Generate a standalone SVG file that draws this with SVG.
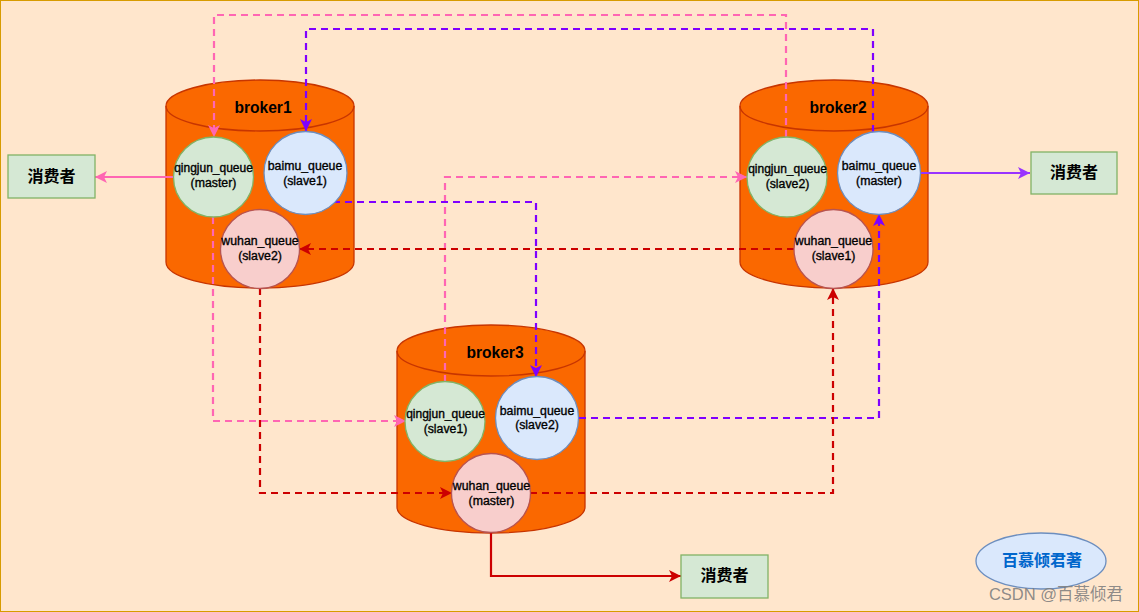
<svg xmlns="http://www.w3.org/2000/svg" width="1139" height="612" viewBox="0 0 1139 612">
<style>
text{font-family:"Liberation Sans",Arial,"Noto Sans CJK SC",sans-serif;text-anchor:middle}
.cyl{fill:#fa6800;stroke:#c73500;stroke-width:1.3}
.bt{font-size:15.600px;font-weight:700;fill:#000}
.q{font-size:12.300px;fill:#000;stroke:#000;stroke-width:.35}
.qj{font-size:12px}
.g{fill:#d5e8d4;stroke:#82b366;stroke-width:1.3}
.b{fill:#dae8fc;stroke:#6c8ebf;stroke-width:1.3}
.r{fill:#f8cecc;stroke:#b85450;stroke-width:1.3}
.c{font-size:16px;font-weight:700;fill:#000;font-family:"Noto Sans CJK SC",sans-serif}
path.l{fill:none;stroke-width:2.200}
.dash{stroke-dasharray:7 5}
.pk{stroke:#ff66b3}.pu{stroke:#7f00ff}.rd{stroke:#cc0000}.pu2{stroke:#9933ff}
</style>
<defs>
<marker id="ap" markerUnits="userSpaceOnUse" markerWidth="14" markerHeight="14" refX="12" refY="6" orient="auto"><path d="M0 0L12 6L0 12L3 6Z" fill="#ff66b3"/></marker>
<marker id="au" markerUnits="userSpaceOnUse" markerWidth="14" markerHeight="14" refX="12" refY="6" orient="auto"><path d="M0 0L12 6L0 12L3 6Z" fill="#7f00ff"/></marker>
<marker id="au2" markerUnits="userSpaceOnUse" markerWidth="14" markerHeight="14" refX="12" refY="6" orient="auto"><path d="M0 0L12 6L0 12L3 6Z" fill="#9933ff"/></marker>
<marker id="ar" markerUnits="userSpaceOnUse" markerWidth="14" markerHeight="14" refX="12" refY="6" orient="auto"><path d="M0 0L12 6L0 12L3 6Z" fill="#cc0000"/></marker>
</defs>
<rect x="0.5" y="0.5" width="1138" height="611" fill="#ffe6cc" stroke="#d79b00"/>
<g id="broker1"><path class="cyl" d="M166 106C166 92 208 80 260 80S354 92 354 106V262C354 277 312 288 260 288S166 277 166 262Z"/><path class="cyl" style="fill:none" d="M166 106C166 120 208 131 260 131S354 120 354 106"/><text class="bt" x="263" y="113">broker1</text></g>
<g id="broker2"><path class="cyl" d="M740 106C740 92 782 80 834 80S928 92 928 106V262C928 277 886 288 834 288S740 277 740 262Z"/><path class="cyl" style="fill:none" d="M740 106C740 120 782 131 834 131S928 120 928 106"/><text class="bt" x="838" y="113">broker2</text></g>
<g id="broker3"><path class="cyl" d="M397 351C397 337 439 325 491 325S585 337 585 351V507C585 522 543 533 491 533S397 522 397 507Z"/><path class="cyl" style="fill:none" d="M397 351C397 365 439 376 491 376S585 365 585 351"/><text class="bt" x="495" y="358">broker3</text></g>
<g id="connectors">
<path class="l dash pk" d="M786 137V15H214V137" marker-end="url(#ap)"/>
<path class="l dash pu" d="M873 132V29H306V131" marker-end="url(#au)"/>
<path class="l dash pk" d="M213 217V421H406" marker-end="url(#ap)"/>
<path class="l dash pk" d="M445 382V177H747" marker-end="url(#ap)"/>
<path class="l dash pu" d="M333 202H536V377" marker-end="url(#au)"/>
<path class="l dash pu" d="M579 418H879V214" marker-end="url(#au)"/>
<path class="l dash rd" d="M794 249H299" marker-end="url(#ar)"/>
<path class="l dash rd" d="M260 288V493H452" marker-end="url(#ar)"/>
<path class="l dash rd" d="M530 493H833V288" marker-end="url(#ar)"/>
<path class="l pk" d="M174 177H95" marker-end="url(#ap)"/>
<path class="l pu2" d="M920 173H1030" marker-end="url(#au2)"/>
<path class="l rd" d="M491 533V576H681" marker-end="url(#ar)"/>
</g>
<g id="n-q1"><circle class="g" cx="213.500" cy="177" r="40"/><text class="q qj" x="213.500" y="172">qingjun_queue</text><text class="q" x="213.500" y="187">(master)</text></g>
<g id="n-b1"><circle class="b" cx="305.500" cy="173" r="41.500"/><text class="q" x="305" y="170">baimu_queue</text><text class="q" x="305" y="185">(slave1)</text></g>
<g id="n-w1"><circle class="r" cx="260" cy="249" r="39.500"/><text class="q" x="260" y="245">wuhan_queue</text><text class="q" x="260" y="260">(slave2)</text></g>
<g id="n-q2"><circle class="g" cx="787" cy="177" r="40"/><text class="q qj" x="787.500" y="173">qingjun_queue</text><text class="q" x="787.500" y="188">(slave2)</text></g>
<g id="n-b2"><circle class="b" cx="879" cy="173" r="41.500"/><text class="q" x="879" y="170">baimu_queue</text><text class="q" x="879" y="185">(master)</text></g>
<g id="n-w2"><circle class="r" cx="833.500" cy="249" r="39.500"/><text class="q" x="833.500" y="245">wuhan_queue</text><text class="q" x="833.500" y="260">(slave1)</text></g>
<g id="n-q3"><circle class="g" cx="445" cy="421.500" r="40"/><text class="q qj" x="445.500" y="418">qingjun_queue</text><text class="q" x="445.500" y="433">(slave1)</text></g>
<g id="n-b3"><circle class="b" cx="537" cy="418" r="41.500"/><text class="q" x="537" y="415">baimu_queue</text><text class="q" x="537" y="429">(slave2)</text></g>
<g id="n-w3"><circle class="r" cx="491" cy="493" r="39.500"/><text class="q" x="491.500" y="490">wuhan_queue</text><text class="q" x="491.500" y="505">(master)</text></g>
<g id="consumer1"><rect class="g" x="8" y="155" width="87" height="43"/><text class="c" x="51.500" y="182">消费者</text></g>
<g id="consumer2"><rect class="g" x="1031" y="152" width="86" height="42"/><text class="c" x="1074" y="178">消费者</text></g>
<g id="consumer3"><rect class="g" x="681" y="555" width="87" height="43"/><text class="c" x="724.500" y="581">消费者</text></g>
<g id="author"><ellipse class="b" cx="1041" cy="561" rx="65" ry="28"/><text x="1042" y="566" style="font-size:16px;font-weight:700;fill:#0066cc;font-family:'Noto Sans CJK SC',sans-serif">百慕倾君著</text></g>
<text x="1056" y="600" style="font-size:16.500px;fill:#7f7f7f;fill-opacity:.9;font-family:'Liberation Sans','Noto Sans CJK SC',sans-serif">CSDN @百慕倾君</text>
</svg>
